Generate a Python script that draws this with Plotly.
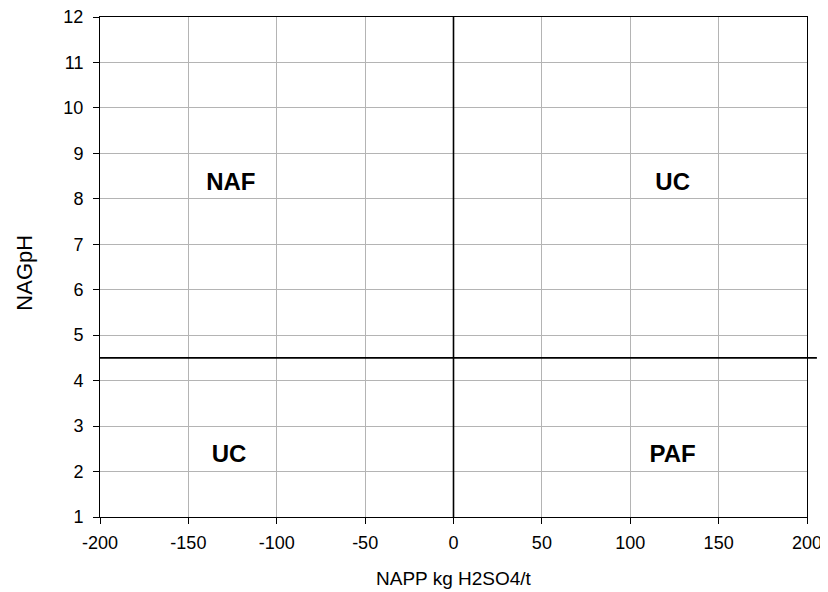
import plotly.graph_objects as go

# Quadrant labels
labels = ["NAF", "UC", "UC", "PAF"]
label_x = [-126, 124, -127, 124]
label_y = [8.33, 8.33, 2.35, 2.35]

# Thresholds
napp_threshold = 0
nagph_threshold = 4.5

x_ticks = [-200, -150, -100, -50, 0, 50, 100, 150, 200]
x_ticktext = ["-200", "-150", "-100", "-50", "0", "50", "100", "150", "200"]
y_ticks = list(range(1, 13))

FONT = "Liberation Sans, Arial"

fig = go.Figure()
fig.add_trace(go.Scatter(
    x=label_x, y=label_y, mode="text", text=labels,
    textfont=dict(family=FONT, size=24, color="black"),
    texttemplate="<b>%{text}</b>", hoverinfo="skip", showlegend=False, cliponaxis=False))

# vertical threshold line
fig.add_shape(type="line", xref="x", yref="y",
              x0=napp_threshold, x1=napp_threshold, y0=1, y1=12,
              line=dict(color="black", width=1.6))
# horizontal threshold line (extends slightly past axis)
fig.add_shape(type="line", xref="paper", yref="y",
              x0=0, x1=1.014, y0=nagph_threshold, y1=nagph_threshold,
              line=dict(color="black", width=1.6))

axis_font = dict(family=FONT, size=18, color="black")
fig.update_xaxes(range=[-200, 200], tickvals=x_ticks, ticktext=x_ticktext,
                 showgrid=True, gridcolor="#b4b4b4",
                 gridwidth=1, showline=True, linecolor="black", linewidth=1, mirror=True,
                 ticks="outside", ticklen=6, tickcolor="black", zeroline=False,
                 tickfont=axis_font, automargin=False, ticklabelstandoff=3,
                 ticklabeloverflow="allow")
fig.update_yaxes(range=[1, 12], tickvals=y_ticks, showgrid=True, gridcolor="#b4b4b4",
                 gridwidth=1, showline=True, linecolor="black", linewidth=1, mirror=True,
                 ticks="outside", ticklen=6, tickcolor="black", zeroline=False,
                 tickfont=axis_font, automargin=False, ticklabelstandoff=6,
                 ticklabeloverflow="allow")
fig.add_annotation(text="NAPP kg H2SO4/t", xref="paper", yref="paper", x=0.5, y=-0.122,
                   showarrow=False, font=dict(family=FONT, size=19, color="black"),
                   xanchor="center", yanchor="middle")
fig.add_annotation(text="NAGpH", xref="paper", yref="paper", x=-0.108, y=0.488,
                   showarrow=False, textangle=-90, font=dict(family=FONT, size=22, color="black"),
                   xanchor="center", yanchor="middle")
fig.update_layout(width=820, height=584, margin=dict(l=92, r=21, t=9, b=75),
                  plot_bgcolor="white", paper_bgcolor="white", showlegend=False)
fig.write_html("out.html")
